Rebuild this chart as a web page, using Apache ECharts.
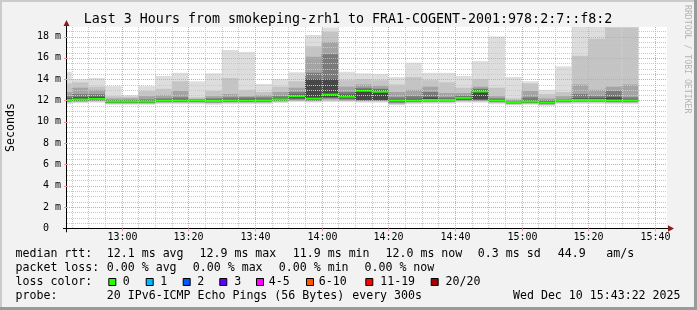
<!DOCTYPE html>
<html><head><meta charset="utf-8">
<script src="https://cdn.jsdelivr.net/npm/echarts@6/dist/echarts.min.js"></script>
<style>html,body{margin:0;padding:0;background:#f2f2f2}#c{width:697px;height:310px}</style>
</head><body><div id="c"></div><script>
// ---- data ----
const barTimes = ['12:40','12:45','12:50','12:55','13:00','13:05','13:10','13:15','13:20','13:25','13:30','13:35','13:40','13:45','13:50','13:55','14:00','14:05','14:10','14:15','14:20','14:25','14:30','14:35','14:40','14:45','14:50','14:55','15:00','15:05','15:10','15:15','15:20','15:25','15:30'];
const median = [12.05,12.1,12.15,11.9,11.9,11.9,12.0,12.0,12.0,11.95,12.0,12.0,12.0,12.1,12.4,12.17,12.55,12.36,12.92,12.83,12.0,12.0,12.05,12.05,12.25,12.85,12.0,11.85,11.9,11.8,12.0,12.05,12.05,12.0,12.0];
const ping20 = [14.7,14.0,14.1,13.35,12.5,13.35,14.3,14.6,13.8,14.55,16.75,16.55,13.55,14.0,14.65,18.15,18.85,14.7,14.55,14.5,14.2,15.55,14.6,14.6,14.3,15.7,18.0,14.2,13.8,13.0,15.2,19.3,19.6,19.4,19.5];
const ping18 = [13.6,13.7,13.3,12.4,12.35,12.9,13.1,13.8,12.3,12.9,14.1,13.0,12.8,13.3,13.8,17.1,18.45,13.9,14.0,13.9,13.5,14.2,13.9,13.7,13.2,14.0,13.2,12.2,13.6,12.6,12.8,16.2,17.8,18.85,18.85];
const ping16 = [12.8,13.2,13.0,12.2,12.2,12.4,12.5,12.9,12.15,12.4,12.6,12.4,12.5,12.8,13.2,16.1,17.5,13.3,13.5,13.4,12.8,13.0,13.3,12.7,12.7,13.3,12.4,12.05,12.9,12.2,12.4,13.5,13.0,13.3,13.5];
const ping14 = [12.4,12.6,12.6,12.05,12.05,12.1,12.2,12.3,12.1,12.2,12.3,12.3,12.3,12.4,12.8,14.6,16.35,12.8,13.2,13.1,12.3,12.4,12.8,12.3,12.45,13.1,12.2,11.98,12.3,12.0,12.1,12.6,12.4,12.9,12.3];
const ping12 = [12.2,12.3,12.35,11.98,11.98,12.0,12.1,12.1,12.05,12.05,12.1,12.15,12.1,12.2,12.55,14.0,14.0,12.55,13.05,13.0,12.1,12.15,12.3,12.15,12.35,13.0,12.1,11.92,12.0,11.9,12.05,12.2,12.2,12.3,12.1];
const ping9 = [11.97,12.0,12.05,11.83,11.83,11.83,11.93,11.93,11.93,11.88,11.93,11.93,11.93,12.02,12.2,12.05,12.3,12.2,12.05,12.05,11.9,11.93,11.97,11.97,12.1,12.1,11.93,11.78,11.83,11.73,11.93,11.97,11.97,11.93,11.93];
const ping7 = [11.92,11.95,12.0,11.78,11.78,11.78,11.88,11.88,11.88,11.83,11.88,11.88,11.88,11.97,12.1,12.0,12.2,12.1,12.0,12.0,11.8,11.88,11.92,11.92,12.02,12.02,11.88,11.73,11.78,11.68,11.88,11.92,11.92,11.88,11.88];
const ping5 = [11.87,11.9,11.95,11.73,11.73,11.73,11.83,11.83,11.83,11.78,11.83,11.83,11.83,11.92,12.0,11.95,12.1,12.0,11.95,11.95,11.72,11.83,11.87,11.87,11.95,11.95,11.83,11.68,11.73,11.63,11.83,11.87,11.87,11.83,11.83];
const ping3 = [11.8,11.85,11.9,11.68,11.68,11.68,11.77,11.77,11.77,11.72,11.77,11.77,11.77,11.86,11.95,11.9,12.0,11.95,11.9,11.9,11.65,11.77,11.8,11.8,11.9,11.9,11.77,11.62,11.68,11.58,11.77,11.8,11.8,11.77,11.77];
const ping1 = [11.65,11.75,11.8,11.6,11.6,11.6,11.65,11.65,11.65,11.6,11.65,11.65,11.65,11.75,11.85,11.8,11.85,11.85,11.8,11.8,11.55,11.65,11.7,11.7,11.8,11.8,11.65,11.55,11.6,11.5,11.65,11.7,11.7,11.65,11.65];
const stepMin = 5;                       // 300 s per bar
const xMajorTicks = ['13:00','13:20','13:40','14:00','14:20','14:40','15:00','15:20','15:40'];
const yMajorTicks = [0,2,4,6,8,10,12,14,16,18];
const yMinorStep = 0.5;
const lossLabels = ['0','1','2','3','4-5','6-10','11-19','20/20'];
const lossColors = ['#26ff00','#00b8ff','#0059ff','#5e00ff','#ff00ff','#ff5500','#ff0000','#a10000'];
const titleText = 'Last 3 Hours from smokeping-zrh1 to FRA1-COGENT-2001:978:2:7::f8:2';
const rttStats = ['12.1 ms avg','12.9 ms max','11.9 ms min','12.0 ms now','0.3 ms sd','44.9','am/s'];
const lossStats = ['0.00 % avg','0.00 % max','0.00 % min','0.00 % now'];
const probeText = '20 IPv6-ICMP Echo Pings (56 Bytes)';
const probeEvery = 'every 300s';
const dateText = 'Wed Dec 10 15:43:22 2025';

// ---- layout ----
const L = 67, T = 27, W = 600, H = 201.3;
const B = T + H, R = L + W;
const X_MIN = 12*60 + 43.6, X_MAX = X_MIN + 180, Y_MAX = 18.9;
const MONO = "'DejaVu Sans Mono', monospace";
const toMin = s => { const p = s.split(':'); return (+p[0])*60 + (+p[1]); };

const layers = [
  [ping1, ping20, '#dddddd'],
  [ping3, ping18, '#c4c4c4'],
  [ping5, ping16, '#a4a4a4'],
  [ping7, ping14, '#7a7a7a'],
  [ping9, ping12, '#474747']
];

function rectRender(color) {
  return function (params, api) {
    const p0 = api.coord([api.value(0), api.value(3)]);
    const p1 = api.coord([api.value(1), api.value(2)]);
    const cs = params.coordSys;
    const shape = echarts.graphic.clipRectByRect(
      { x: p0[0], y: p0[1], width: p1[0] - p0[0], height: p1[1] - p0[1] },
      { x: cs.x, y: cs.y, width: cs.width, height: cs.height });
    return shape && { type: 'rect', shape: shape, style: { fill: color } };
  };
}

const series = [];
layers.forEach(function (ly) {
  series.push({
    type: 'custom', renderItem: rectRender(ly[2]),
    encode: { x: [0, 1], y: [2, 3] },
    data: barTimes.map((t, i) => [toMin(t), toMin(t) + stepMin, ly[0][i], ly[1][i]])
  });
});
// median line (loss 0 => green)
series.push({
  type: 'custom',
  encode: { x: [0, 1], y: 2 },
  data: barTimes.map((t, i) => [toMin(t), toMin(t) + stepMin, median[i]]),
  renderItem: function (params, api) {
    const p0 = api.coord([api.value(0), api.value(2)]);
    const p1 = api.coord([api.value(1), api.value(2)]);
    const cs = params.coordSys;
    const x0 = Math.max(p0[0], cs.x), x1 = Math.min(p1[0], cs.x + cs.width);
    return { type: 'rect', shape: { x: x0, y: p0[1] - 1, width: x1 - x0, height: 2 }, style: { fill: lossColors[0] } };
  }
});
// grid lines (drawn over the graph, like rrdtool)
const xMinor = [];
for (let m = Math.ceil(X_MIN / stepMin) * stepMin; m <= X_MAX; m += stepMin) xMinor.push(m);
const yMinor = [];
for (let v = yMinorStep; v < Y_MAX; v += yMinorStep) yMinor.push(v);
const GRID_C = '#c8c8c8', MGRID_C = '#f09a9a';
series.push({
  type: 'custom', encode: { x: 0, y: 1 },
  data: xMinor.map(m => [m, 0]),
  renderItem: function (params, api) {
    const x = Math.round(api.coord([api.value(0), 0])[0]) + 0.5;
    return { type: 'line', shape: { x1: x, y1: T, x2: x, y2: B }, style: { stroke: GRID_C, lineWidth: 1, lineDash: [1, 1] } };
  }
});
series.push({
  type: 'custom', encode: { x: 0, y: 1 },
  data: yMinor.map(v => [X_MIN, v]),
  renderItem: function (params, api) {
    const y = Math.round(api.coord([X_MIN, api.value(1)])[1]) + 0.5;
    return { type: 'line', shape: { x1: L, y1: y, x2: R, y2: y }, style: { stroke: GRID_C, lineWidth: 1, lineDash: [1, 1] } };
  }
});
series.push({
  type: 'custom', encode: { x: 0, y: 1 },
  data: yMajorTicks.filter(v => v > 0).map(v => [X_MIN, v]),
  renderItem: function (params, api) {
    const y = Math.round(api.coord([X_MIN, api.value(1)])[1]) + 0.5;
    return { type: 'group', children: [
      { type: 'line', shape: { x1: L, y1: y, x2: R, y2: y }, style: { stroke: MGRID_C, lineWidth: 1, lineDash: [1, 1] } },
      { type: 'line', shape: { x1: L - 3, y1: y, x2: L, y2: y }, style: { stroke: MGRID_C, lineWidth: 1 } }
    ] };
  }
});
series.push({
  type: 'custom', encode: { x: 0, y: 1 },
  data: xMajorTicks.map(s => [toMin(s), 0]),
  renderItem: function (params, api) {
    const x = Math.round(api.coord([api.value(0), 0])[0]) + 0.5;
    return { type: 'group', children: [
      { type: 'line', shape: { x1: x, y1: T, x2: x, y2: B }, style: { stroke: MGRID_C, lineWidth: 1, lineDash: [1, 1] } },
      { type: 'line', shape: { x1: x, y1: B, x2: x, y2: B + 3 }, style: { stroke: MGRID_C, lineWidth: 1 } },
      { type: 'text', x: x, y: B + 9.2, style: { text: xMajorTicks[params.dataIndex], fill: '#000', font: '10px ' + MONO, align: 'center', verticalAlign: 'middle' } }
    ] };
  }
});

// ---- decorations ----
const g = [];
g.push({ type: 'rect', shape: { x: 0, y: 0, width: 697, height: 2 }, style: { fill: '#cbcbcb' } });
g.push({ type: 'rect', shape: { x: 0, y: 0, width: 2, height: 310 }, style: { fill: '#cbcbcb' } });
g.push({ type: 'rect', shape: { x: 0, y: 307, width: 697, height: 3 }, style: { fill: '#9a9a9a' } });
g.push({ type: 'rect', shape: { x: 694, y: 0, width: 3, height: 310 }, style: { fill: '#9a9a9a' } });
const txt = (x, y, s, opt) => Object.assign({ type: 'text', x: x, y: y, style: Object.assign({ text: s, fill: '#000', font: '11.6px ' + MONO, align: 'left', verticalAlign: 'middle' }, opt || {}) });
g.push(txt(348, 19.3, titleText, { font: '13.3px ' + MONO, align: 'center' }));
g.push({ type: 'text', x: 11, y: 127.5, rotation: Math.PI / 2, style: { text: 'Seconds', fill: '#000', font: '11.6px ' + MONO, align: 'center', verticalAlign: 'middle' } });
g.push({ type: 'text', x: 687.5, y: 5, rotation: -Math.PI / 2, style: { text: 'RRDTOOL / TOBI OETIKER', fill: '#b4b4b4', font: '8.2px ' + MONO, align: 'left', verticalAlign: 'middle' } });
// axes + arrows
g.push({ type: 'line', shape: { x1: 63, y1: B + 0.2, x2: R + 2, y2: B + 0.2 }, style: { stroke: '#000', lineWidth: 1 } });
g.push({ type: 'line', shape: { x1: L - 0.5, y1: B + 4, x2: L - 0.5, y2: T - 2 }, style: { stroke: '#000', lineWidth: 1 } });
g.push({ type: 'polygon', shape: { points: [[R + 1, B - 3], [R + 7, B + 0.2], [R + 1, B + 3.4]] }, style: { fill: '#8b1a1a' } });
g.push({ type: 'polygon', shape: { points: [[L - 3.5, T - 1], [L - 0.5, T - 7], [L + 2.5, T - 1]] }, style: { fill: '#8b1a1a' } });
// legend
const Y1 = 254.3, Y2 = 268.3, Y3 = 282.3, Y4 = 296.2;
g.push(txt(15.5, Y1, 'median rtt:'));
[106.8, 199.5, 292.8, 385.5, 477.8, 557.8, 606.2].forEach((x, i) => g.push(txt(x, Y1, rttStats[i])));
g.push(txt(15.5, Y2, 'packet loss:'));
[106.8, 192.8, 278.8, 364.5].forEach((x, i) => g.push(txt(x, Y2, lossStats[i])));
g.push(txt(15.5, Y3, 'loss color:'));
const boxX = [108.3, 145.7, 182.7, 219.3, 256, 306, 365.3, 430.7];
const labX = [122.8, 160.2, 197.3, 234.2, 268.8, 318.8, 380.2, 445.5];
lossLabels.forEach((s, i) => {
  g.push({ type: 'rect', shape: { x: boxX[i] + 0.5, y: 278.5, width: 7, height: 7 }, style: { fill: lossColors[i], stroke: '#000', lineWidth: 1 } });
  g.push(txt(labX[i], Y3, s));
});
g.push(txt(15.5, Y4, 'probe:'));
g.push(txt(106.8, Y4, probeText));
g.push(txt(352.2, Y4, probeEvery));
g.push(txt(680.5, Y4, dateText, { align: 'right' }));

const chart = echarts.init(document.getElementById('c'), null, { renderer: 'canvas' });
chart.setOption({
  animation: false,
  backgroundColor: '#f2f2f2',
  grid: { left: L, top: T, width: W, height: H, show: true, backgroundColor: '#ffffff', borderWidth: 0 },
  xAxis: { type: 'value', min: X_MIN, max: X_MAX, axisLine: { show: false }, axisTick: { show: false }, axisLabel: { show: false }, splitLine: { show: false } },
  yAxis: {
    type: 'value', min: 0, max: Y_MAX, interval: 2,
    axisLine: { show: false }, axisTick: { show: false }, splitLine: { show: false },
    axisLabel: {
      margin: 6, color: '#000', fontFamily: MONO, fontSize: 10,
      formatter: function (v) {
        if (Math.abs(v - Math.round(v / 2) * 2) > 1e-6) return '';
        return v === 0 ? '0  ' : (Math.round(v) + ' m');
      }
    }
  },
  series: series,
  graphic: g
});
</script></body></html>
